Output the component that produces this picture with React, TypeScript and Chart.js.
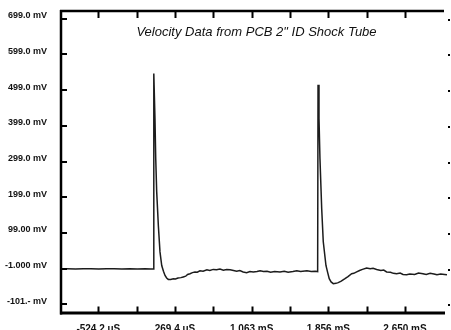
import React, { useEffect, useRef } from 'react';
import { Chart, registerables } from 'chart.js';

Chart.register(...registerables);

const TITLE = 'Velocity Data from PCB 2" ID Shock Tube';

// time in microseconds
const TIME_US = [
  -921, -850, -760, -680, -600, -520, -440, -360, -280, -200, -120, -40, 20, 46,
  50, 62, 70, 80, 97, 114, 132, 150, 166, 183, 200, 225, 252, 275, 300, 330, 355,
  380, 400, 425, 450, 476, 500, 528, 560, 600, 630, 665, 700, 735, 770, 804, 840,
  875, 908, 940, 975, 1011, 1045, 1080, 1118, 1150, 1185, 1222, 1260, 1300, 1356,
  1400, 1440, 1490, 1530, 1570, 1635, 1680, 1720, 1746,
  1750, 1760, 1770, 1788, 1804, 1832, 1850, 1866, 1885, 1908, 1935, 1959, 1990,
  2029, 2060, 2098, 2120, 2150, 2180, 2210, 2253, 2290, 2320, 2357, 2400, 2430,
  2460, 2500, 2530, 2564, 2600, 2630, 2667, 2700, 2750, 2790, 2836, 2870, 2910,
  2950, 2981, 3020, 3060, 3085,
];

// voltage in millivolts
const VOLTAGE_MV = [
  -1, -1, -2, -1, -1, -2, -1, -1, -2, -1, -2, -1, -2, -2,
  545, 420, 307, 214, 120, 46, 8, -8, -20, -27, -31, -31, -29, -30, -27, -26, -24,
  -22, -17, -15, -12, -10, -11, -7, -8, -4, -6, -3, -4, -2, -5, -3, -4,
  -6, -8, -6, -10, -12, -9, -10, -9, -7, -9, -8, -11, -9, -10,
  -8, -11, -9, -7, -9, -7, -9, -8, -9,
  514, 420, 307, 167, 75, 8, -12, -29, -38, -43, -42, -40, -36,
  -29, -23, -15, -14, -10, -6, -3, 1, -1, 0, -3, -6, -5,
  -10, -11, -14, -15, -13, -17, -18, -16, -17, -13, -15, -17, -14,
  -16, -18, -16, -17, -18,
];

const X_MIN = -921;
const X_MAX = 3085;
const Y_MIN = -125;
const Y_MAX = 723;

const X_TICKS = [-921.0, -524.2, -127.4, 269.4, 666.2, 1063.0, 1459.8, 1856.6, 2253.4, 2650.2, 3047.0];
const X_TICK_LABELS = ['', '-524.2 uS', '', '269.4 uS', '', '1.063 mS', '', '1.856 mS', '', '2.650 mS', ''];

const Y_TICKS = [-101, -1, 99, 199, 299, 399, 499, 599, 699];
const Y_TICK_LABELS = ['-101.- mV', '-1.000 mV', '99.00 mV', '199.0 mV', '299.0 mV', '399.0 mV', '499.0 mV', '599.0 mV', '699.0 mV'];

const FONT = '"Liberation Sans", Arial, Helvetica, sans-serif';

const framePlugin = {
  id: 'frame',
  afterDatasetsDraw(chart: any) {
    const { ctx, chartArea: a, scales } = chart;
    const xs = scales.x;
    const ys = scales.y;
    ctx.save();
    ctx.strokeStyle = '#000';
    ctx.fillStyle = '#000';
    ctx.lineCap = 'butt';

    // left axis line
    ctx.lineWidth = 2.5;
    ctx.beginPath();
    ctx.moveTo(a.left + 1, a.top);
    ctx.lineTo(a.left + 1, a.bottom + 1.5);
    ctx.stroke();
    // top line
    ctx.beginPath();
    ctx.moveTo(a.left, a.top + 1);
    ctx.lineTo(a.right - 3, a.top + 1);
    ctx.stroke();
    // bottom line
    ctx.lineWidth = 3;
    ctx.beginPath();
    ctx.moveTo(a.left, a.bottom);
    ctx.lineTo(a.right - 2, a.bottom);
    ctx.stroke();

    // x tick marks (top and bottom, pointing inward)
    ctx.lineWidth = 2;
    xs.ticks.forEach((t: any, i: number) => {
      if (i === 0 || i === xs.ticks.length - 1) return;
      const px = Math.round(xs.getPixelForValue(t.value)) + 0.5;
      ctx.beginPath();
      ctx.moveTo(px, a.top + 2);
      ctx.lineTo(px, a.top + 8);
      ctx.moveTo(px, a.bottom);
      ctx.lineTo(px, a.bottom - 6.5);
      ctx.stroke();
    });

    // y tick marks (left inward, right dots)
    ys.ticks.forEach((t: any) => {
      const py = Math.round(ys.getPixelForValue(t.value));
      ctx.beginPath();
      ctx.moveTo(a.left + 2, py);
      ctx.lineTo(a.left + 7, py);
      ctx.stroke();
      ctx.fillRect(a.right + 1, py, 2, 2);
    });

    // title inside the plot
    ctx.font = 'italic 13px ' + FONT;
    ctx.fillStyle = '#111';
    ctx.textAlign = 'center';
    ctx.textBaseline = 'alphabetic';
    ctx.fillText(TITLE, (a.left + a.right) / 2 + 3, a.top + 26);
    ctx.restore();
  },
};

export default function App() {
  const ref = useRef<HTMLCanvasElement>(null);

  useEffect(() => {
    const canvas = ref.current;
    if (!canvas) return;
    const points = TIME_US.map((t, i) => ({ x: t, y: VOLTAGE_MV[i] }));
    const chart = new Chart(canvas, {
      type: 'line',
      data: {
        datasets: [
          {
            data: points,
            borderColor: '#1c1c1c',
            borderWidth: 1.5,
            pointRadius: 0,
            tension: 0,
            fill: false,
          },
        ],
      },
      options: {
        responsive: false,
        animation: false,
        devicePixelRatio: 1,
        layout: { padding: { top: 10, right: 4, left: 0, bottom: 0 } },
        plugins: {
          legend: { display: false },
          tooltip: { enabled: false },
          title: { display: false },
        },
        scales: {
          x: {
            type: 'linear',
            position: 'bottom',
            min: X_MIN,
            max: X_MAX,
            grid: { display: false, drawTicks: false },
            border: { display: false },
            afterBuildTicks: (scale: any) => {
              scale.ticks = X_TICKS.map((v) => ({ value: v }));
            },
            afterFit: (scale: any) => {
              scale.height = 17;
              scale.paddingLeft = 0;
              scale.paddingRight = 0;
            },
            ticks: {
              autoSkip: false,
              maxRotation: 0,
              minRotation: 0,
              padding: 10,
              color: '#111',
              font: { family: FONT, size: 10, weight: 'bold' },
              callback: (_v: any, i: number) => X_TICK_LABELS[i] ?? '',
            },
          },
          y: {
            type: 'linear',
            position: 'left',
            min: Y_MIN,
            max: Y_MAX,
            grid: { display: false, drawTicks: false },
            border: { display: false },
            afterBuildTicks: (scale: any) => {
              scale.ticks = Y_TICKS.map((v) => ({ value: v }));
            },
            afterFit: (scale: any) => {
              scale.width = 60;
              scale.paddingTop = 0;
              scale.paddingBottom = 0;
            },
            ticks: {
              autoSkip: false,
              padding: 13,
              labelOffset: -3,
              color: '#111',
              font: { family: FONT, size: 9, weight: 'bold' },
              callback: (_v: any, i: number) => Y_TICK_LABELS[i] ?? '',
            },
          },
        },
      },
      plugins: [framePlugin],
    });
    return () => chart.destroy();
  }, []);

  return (
    <div style={{ position: 'absolute', left: 0, top: 0, width: 451, height: 330, background: '#fff' }}>
      <canvas ref={ref} width={451} height={330} style={{ display: 'block' }} />
    </div>
  );
}
